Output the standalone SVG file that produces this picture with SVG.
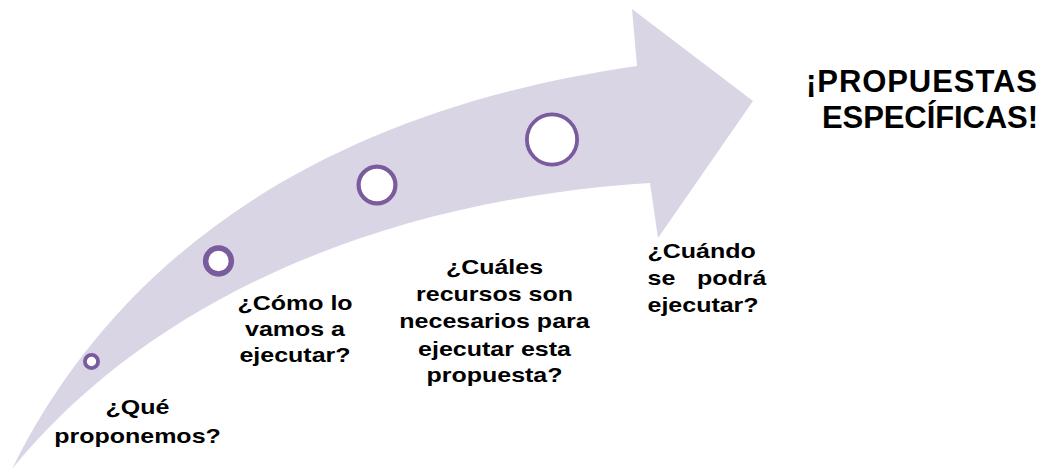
<svg xmlns="http://www.w3.org/2000/svg" width="1040" height="469" viewBox="0 0 1040 469">
  <style>
    .lbl { font-family: "Liberation Sans", Arial, sans-serif; font-weight: bold; font-size: 21px; fill: #000; }
    .mid { text-anchor: middle; }
    .title { font-family: "Liberation Sans", Arial, sans-serif; font-weight: bold; font-size: 31px; fill: #000; }
    .dot { fill: #ffffff; stroke: #7A5C9E; }
  </style>
  <rect width="1040" height="469" fill="#ffffff"/>
  <g id="arrow">
    <path d="M 12,469 C 120,250 330,110 637,66 L 632,9 L 753,101 L 658,238 L 650,183 C 380,200 150,300 12,469 Z" fill="#D9D5E5"/>
  </g>
  <g id="connectors"></g>
  <g id="step1">
    <circle class="dot" cx="91.5" cy="361.5" r="6.6" stroke-width="3.8"/>
    <text class="lbl mid" transform="translate(137.5,414) scale(1.19,1)">¿Qué</text>
    <text class="lbl mid" transform="translate(137.5,443) scale(1.19,1)">proponemos?</text>
  </g>
  <g id="step2">
    <circle class="dot" cx="218.5" cy="261" r="12.9" stroke-width="5.5"/>
    <text class="lbl mid" transform="translate(295,309.8) scale(1.19,1)">¿Cómo lo</text>
    <text class="lbl mid" transform="translate(295,336) scale(1.19,1)">vamos a</text>
    <text class="lbl mid" transform="translate(295,362.2) scale(1.19,1)">ejecutar?</text>
  </g>
  <g id="step3">
    <circle class="dot" cx="377" cy="185" r="18.4" stroke-width="4.2"/>
    <text class="lbl mid" transform="translate(494.5,274) scale(1.19,1)">¿Cuáles</text>
    <text class="lbl mid" transform="translate(494.5,301) scale(1.19,1)">recursos son</text>
    <text class="lbl mid" transform="translate(494.5,328.2) scale(1.19,1)">necesarios para</text>
    <text class="lbl mid" transform="translate(494.5,355.5) scale(1.19,1)">ejecutar esta</text>
    <text class="lbl mid" transform="translate(494.5,382.2) scale(1.19,1)">propuesta?</text>
  </g>
  <g id="step4">
    <circle class="dot" cx="552" cy="139.5" r="25.1" stroke-width="3.8"/>
    <text class="lbl" transform="translate(647.5,258) scale(1.19,1)">¿Cuándo</text>
    <text class="lbl" transform="translate(647.5,285) scale(1.19,1)">se</text>
    <text class="lbl" transform="translate(697,285) scale(1.19,1)">podrá</text>
    <text class="lbl" transform="translate(647.5,312) scale(1.19,1)">ejecutar?</text>
  </g>
  <g id="goal">
    <text class="title" x="806" y="91.5" textLength="231" lengthAdjust="spacing">¡PROPUESTAS</text>
    <text class="title" x="822" y="127.5" textLength="216" lengthAdjust="spacing">ESPECÍFICAS!</text>
  </g>
</svg>
